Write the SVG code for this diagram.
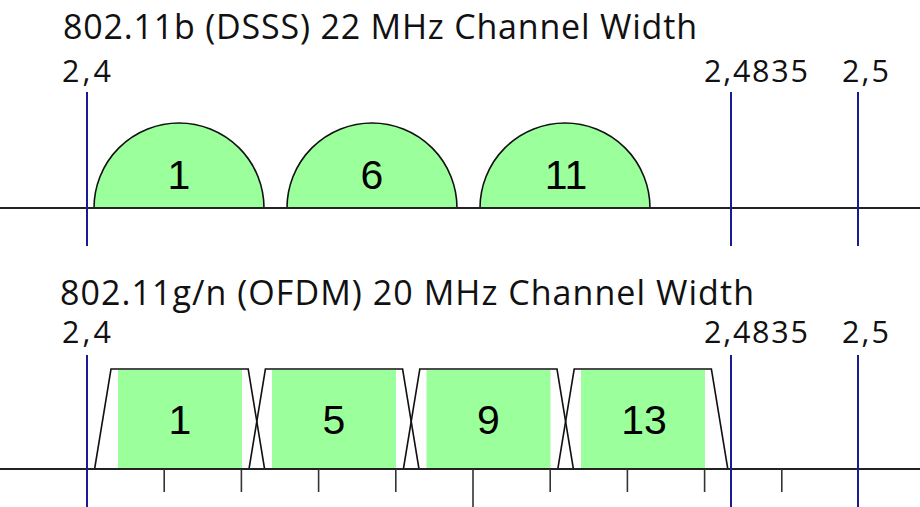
<svg xmlns="http://www.w3.org/2000/svg" width="920" height="507" viewBox="0 0 920 507">
  <style>
    .title { font-family: "Open Sans", "DejaVu Sans", sans-serif; font-size: 34px; fill: #111; }
    .freq { font-family: "Open Sans", "DejaVu Sans", sans-serif; font-size: 30.5px; fill: #111; }
    .ch { font-family: "Liberation Sans", Arial, sans-serif; font-size: 41px; fill: #000; text-anchor: middle; }
    .axis { stroke: #222; stroke-width: 2; fill: none; }
    .marker { stroke: #1a1a99; stroke-width: 2; fill: none; }
    .band { fill: #9bff9b; stroke: #111; stroke-width: 1.6; }
    .occ { fill: #9bff9b; stroke: none; }
    .mask { fill: none; stroke: #111; stroke-width: 1.6; stroke-linejoin: miter; }
    .tick { stroke: #333; stroke-width: 1.6; }
  </style>

  <!-- 802.11b DSSS panel -->
  <text class="title" x="63" y="39" textLength="634" lengthAdjust="spacing">802.11b (DSSS) 22 MHz Channel Width</text>
  <text class="freq" x="62" y="82" textLength="49" lengthAdjust="spacing">2,4</text>
  <text class="freq" x="704" y="82" textLength="104" lengthAdjust="spacing">2,4835</text>
  <text class="freq" x="842" y="82" textLength="47" lengthAdjust="spacing">2,5</text>

  <g id="dsss-ch1">
    <path class="band" d="M94,208 A85,85 0 0 1 264,208 Z"/>
    <text class="ch" x="179" y="189">1</text>
  </g>
  <g id="dsss-ch6">
    <path class="band" d="M287,208 A85,85 0 0 1 457,208 Z"/>
    <text class="ch" x="372" y="189">6</text>
  </g>
  <g id="dsss-ch11">
    <path class="band" d="M480,208 A85,85 0 0 1 650,208 Z"/>
    <text class="ch" x="566" y="189">11</text>
  </g>

  <g id="dsss-axis">
    <line class="axis" x1="0" y1="208" x2="920" y2="208"/>
    <line class="marker" x1="87" y1="92" x2="87" y2="246"/>
    <line class="marker" x1="731" y1="92" x2="731" y2="246"/>
    <line class="marker" x1="858" y1="92" x2="858" y2="246"/>
  </g>

  <!-- 802.11g/n OFDM panel -->
  <text class="title" x="60" y="305" textLength="694" lengthAdjust="spacing">802.11g/n (OFDM) 20 MHz Channel Width</text>
  <text class="freq" x="62" y="343" textLength="49" lengthAdjust="spacing">2,4</text>
  <text class="freq" x="704" y="343" textLength="104" lengthAdjust="spacing">2,4835</text>
  <text class="freq" x="842" y="343" textLength="47" lengthAdjust="spacing">2,5</text>

  <g id="ofdm-ch1">
    <rect class="occ" x="118" y="370" width="124" height="99"/>
    <text class="ch" x="180" y="434">1</text>
  </g>
  <g id="ofdm-ch5">
    <rect class="occ" x="272" y="370" width="124" height="99"/>
    <text class="ch" x="334" y="434">5</text>
  </g>
  <g id="ofdm-ch9">
    <rect class="occ" x="426.5" y="370" width="124" height="99"/>
    <text class="ch" x="488.5" y="434">9</text>
  </g>
  <g id="ofdm-ch13">
    <rect class="occ" x="581" y="370" width="124" height="99"/>
    <text class="ch" x="644" y="434">13</text>
  </g>

  <g id="ofdm-masks">
    <path class="mask" d="M94.6,469 L111,369 L248.2,369 L264.6,469"/>
    <path class="mask" d="M249,469 L265.4,369 L402.6,369 L419,469"/>
    <path class="mask" d="M403.4,469 L419.8,369 L557,369 L573.4,469"/>
    <path class="mask" d="M557.8,469 L574.2,369 L711.4,369 L727.8,469"/>
  </g>

  <g id="ofdm-axis">
    <line class="axis" x1="0" y1="469" x2="920" y2="469"/>
    <g class="ticks">
      <line class="tick" x1="164.2" y1="469" x2="164.2" y2="492"/>
      <line class="tick" x1="241.4" y1="469" x2="241.4" y2="492"/>
      <line class="tick" x1="318.6" y1="469" x2="318.6" y2="492"/>
      <line class="tick" x1="395.8" y1="469" x2="395.8" y2="492"/>
      <line class="tick" x1="473" y1="469" x2="473" y2="507"/>
      <line class="tick" x1="550.2" y1="469" x2="550.2" y2="492"/>
      <line class="tick" x1="627.4" y1="469" x2="627.4" y2="492"/>
      <line class="tick" x1="704.6" y1="469" x2="704.6" y2="492"/>
      <line class="tick" x1="781.8" y1="469" x2="781.8" y2="492"/>
    </g>
    <line class="marker" x1="87" y1="355" x2="87" y2="507"/>
    <line class="marker" x1="731" y1="355" x2="731" y2="507"/>
    <line class="marker" x1="858" y1="355" x2="858" y2="507"/>
  </g>
</svg>
